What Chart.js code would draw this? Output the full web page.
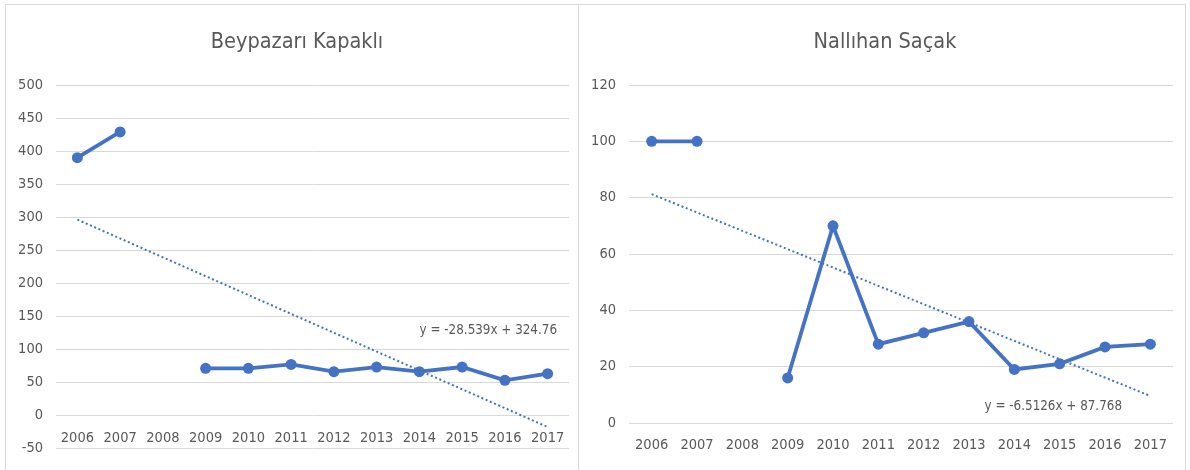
<!DOCTYPE html>
<html>
<head>
<meta charset="utf-8">
<title>Beypazarı Kapaklı / Nallıhan Saçak</title>
<script src="https://cdn.jsdelivr.net/npm/chart.js@4.4.1/dist/chart.umd.min.js"></script>
<style>
  html, body { margin: 0; padding: 0; background: #ffffff; }
  body { width: 1190px; height: 470px; position: relative; overflow: hidden; }
  .panel { position: absolute; top: 4px; height: 470px; border: 1px solid #d9d9d9; border-bottom: none; box-sizing: border-box; }
  #panelLeft { left: 5px; width: 574px; }
  #panelRight { left: 578px; width: 608px; }
  .panel canvas { position: absolute; left: 0; top: 0; }
</style>
</head>
<body>
<div class="panel" id="panelLeft"><canvas id="chartKapakli" width="572" height="465"></canvas></div>
<div class="panel" id="panelRight"><canvas id="chartSacak" width="606" height="465"></canvas></div>

<script>
// Years on the category axis
const years = ['2006', '2007', '2008', '2009', '2010', '2011', '2012', '2013', '2014', '2015', '2016', '2017'];

// Beypazarı Kapaklı yearly values (2008 missing)
const kapakliValues = [390, 429, null, 71, 71, 77, 66, 73, 66, 73, 53, 63];
// Linear trend coefficients (x = 1 for 2006)
const kapakliSlope = -28.539;
const kapakliIntercept = 324.76;
// Value axis ticks
const kapakliTicks = [-50, 0, 50, 100, 150, 200, 250, 300, 350, 400, 450, 500];

// Nallıhan Saçak yearly values (2008 missing)
const sacakValues = [100, 100, null, 16, 70, 28, 32, 36, 19, 21, 27, 28];
const sacakSlope = -6.5126;
const sacakIntercept = 87.768;
const sacakTicks = [0, 20, 40, 60, 80, 100, 120];

const FONT = '"Liberation Sans Narrow", "Arial Narrow", "DejaVu Sans Condensed", "Liberation Sans", sans-serif';
const TEXT = '#595959';
const GRID = '#d9d9d9';
const BLUE = '#4472c4';
const TITLE_SIZE = 21.5;
const TICK_SIZE = 14.5;
const EQUATION_SIZE = 13.3;

function trendSeries(slope, intercept) {
  return years.map((_, i) => slope * (i + 1) + intercept);
}

function equationText(slope, intercept) {
  return 'y = ' + slope + 'x + ' + intercept;
}

// Panel heading, centred a little right of the canvas middle
const panelTitle = {
  id: 'panelTitle',
  afterDraw(chart, args, opts) {
    const { ctx, width } = chart;
    ctx.save();
    ctx.font = TITLE_SIZE + 'px ' + FONT;
    ctx.fillStyle = TEXT;
    ctx.textAlign = 'center';
    ctx.textBaseline = 'middle';
    ctx.fillText(opts.text, width / 2 + opts.dx, opts.y);
    ctx.restore();
  }
};

// Writes the trend equation inside the plot area
const trendLabel = {
  id: 'trendLabel',
  afterDatasetsDraw(chart, args, opts) {
    const { ctx, chartArea, scales } = chart;
    ctx.save();
    ctx.font = EQUATION_SIZE + 'px ' + FONT;
    ctx.fillStyle = TEXT;
    ctx.textAlign = 'right';
    ctx.textBaseline = 'middle';
    ctx.fillText(opts.text, chartArea.right - opts.dx, scales.y.getPixelForValue(opts.atValue));
    ctx.restore();
  }
};

function makeChart(id, title, titleShift, values, slope, intercept, ticks, pad, label) {
  const tickMin = ticks[0];
  const tickMax = ticks[ticks.length - 1];
  const step = ticks[1] - ticks[0];
  return new Chart(document.getElementById(id), {
    type: 'line',
    data: {
      labels: years,
      datasets: [
        {
          label: 'Linear (' + title + ')',
          data: trendSeries(slope, intercept),
          borderColor: BLUE,
          borderWidth: 2,
          borderDash: [2, 2.6],
          pointRadius: 0,
          tension: 0,
          fill: false,
          order: 0
        },
        {
          label: title,
          data: values,
          borderColor: BLUE,
          backgroundColor: BLUE,
          borderWidth: 3.8,
          pointRadius: 5.5,
          pointBorderWidth: 0,
          pointBackgroundColor: BLUE,
          tension: 0,
          spanGaps: false,
          fill: false,
          order: 1
        }
      ]
    },
    options: {
      responsive: false,
      animation: false,
      devicePixelRatio: 1,
      layout: { padding: pad },
      plugins: {
        legend: { display: false },
        tooltip: { enabled: false },
        title: { display: false },
        panelTitle: { text: title, dx: titleShift, y: 37 },
        trendLabel: label
      },
      scales: {
        x: {
          type: 'category',
          position: { y: 0 },
          offset: true,
          grid: { display: false },
          border: { display: false },
          ticks: {
            color: TEXT,
            font: { family: FONT, size: TICK_SIZE },
            padding: 6,
            autoSkip: false,
            maxRotation: 0
          }
        },
        y: {
          min: tickMin,
          max: tickMax,
          border: { display: false },
          grid: { color: GRID, lineWidth: 1, drawTicks: false },
          ticks: {
            stepSize: step,
            color: TEXT,
            font: { family: FONT, size: TICK_SIZE },
            padding: 13
          },
          afterFit(scale) { scale.width = 50; }
        }
      }
    },
    plugins: [panelTitle, trendLabel]
  });
}

makeChart('chartKapakli', 'Beypazarı Kapaklı', 5, kapakliValues, kapakliSlope, kapakliIntercept, kapakliTicks,
  { left: 0, right: 9, top: 80, bottom: 20 },
  { text: equationText(kapakliSlope, kapakliIntercept), dx: 12, atValue: 129 });

makeChart('chartSacak', 'Nallıhan Saçak', 3, sacakValues, sacakSlope, sacakIntercept, sacakTicks,
  { left: 0, right: 12, top: 80, bottom: 47 },
  { text: equationText(sacakSlope, sacakIntercept), dx: 51, atValue: 5.7 });
</script>
</body>
</html>
